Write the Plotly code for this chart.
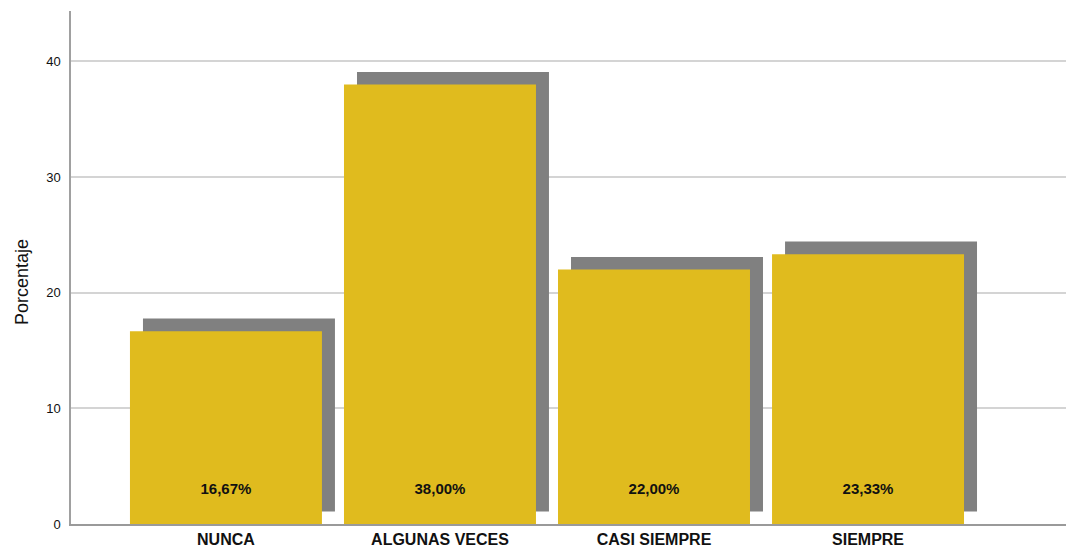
import plotly.graph_objects as go

categories = ["NUNCA", "ALGUNAS VECES", "CASI SIEMPRE", "SIEMPRE"]
values = [16.67, 38.00, 22.00, 23.33]
labels = ["16,67%", "38,00%", "22,00%", "23,33%"]
y_ticks = [0, 10, 20, 30, 40]

x_idx = list(range(len(categories)))
bar_w = 0.897
main_off = -bar_w / 2
shadow_dx = 13 / 214
shadow_dy = 1.09

fig = go.Figure()
fig.add_trace(go.Bar(
    x=x_idx, y=values, base=shadow_dy, width=bar_w, offset=main_off + shadow_dx,
    marker=dict(color="#808080", line=dict(width=0)), hoverinfo="skip", showlegend=False,
))
fig.add_trace(go.Bar(
    x=x_idx, y=values, width=bar_w, offset=main_off,
    marker=dict(color="#E0BB1E", line=dict(width=0)), showlegend=False,
))
fig.add_trace(go.Scatter(
    x=x_idx, y=[2.95] * len(values), mode="text", text=labels,
    textfont=dict(family="Liberation Sans, Arial", size=15, color="#111111", weight="bold"),
    showlegend=False, hoverinfo="skip",
))

fig.update_layout(
    width=1066, height=554,
    margin=dict(l=71, r=0, t=11, b=30),
    paper_bgcolor="white", plot_bgcolor="white",
    barmode="overlay",
    font=dict(family="Liberation Sans, Arial", color="#111111"),
    xaxis=dict(
        range=[-0.724, 3.925], tickmode="array", tickvals=x_idx, ticktext=categories,
        tickfont=dict(size=16, weight="bold", color="#111111"),
        showgrid=False, zeroline=False, showline=True, linecolor="#9a9a9a", linewidth=1.5,
        ticks="", fixedrange=True,
    ),
    yaxis=dict(
        range=[0, 44.36], tickmode="array", tickvals=y_ticks,
        tickfont=dict(size=13, color="#111111"),
        showgrid=True, gridcolor="#d4d4d4", gridwidth=1.5, zeroline=False,
        showline=True, linecolor="#a0a0a0", linewidth=1.5, ticks="",
        ticklabelstandoff=6,
    ),
    annotations=[dict(
        text="Porcentaje", textangle=-90, showarrow=False,
        xref="paper", yref="paper", x=(22 - 71) / 995, y=(524 - 282) / 513,
        xanchor="center", yanchor="middle",
        font=dict(size=18, color="#111111"),
    )],
)

fig.write_html("out.html")
